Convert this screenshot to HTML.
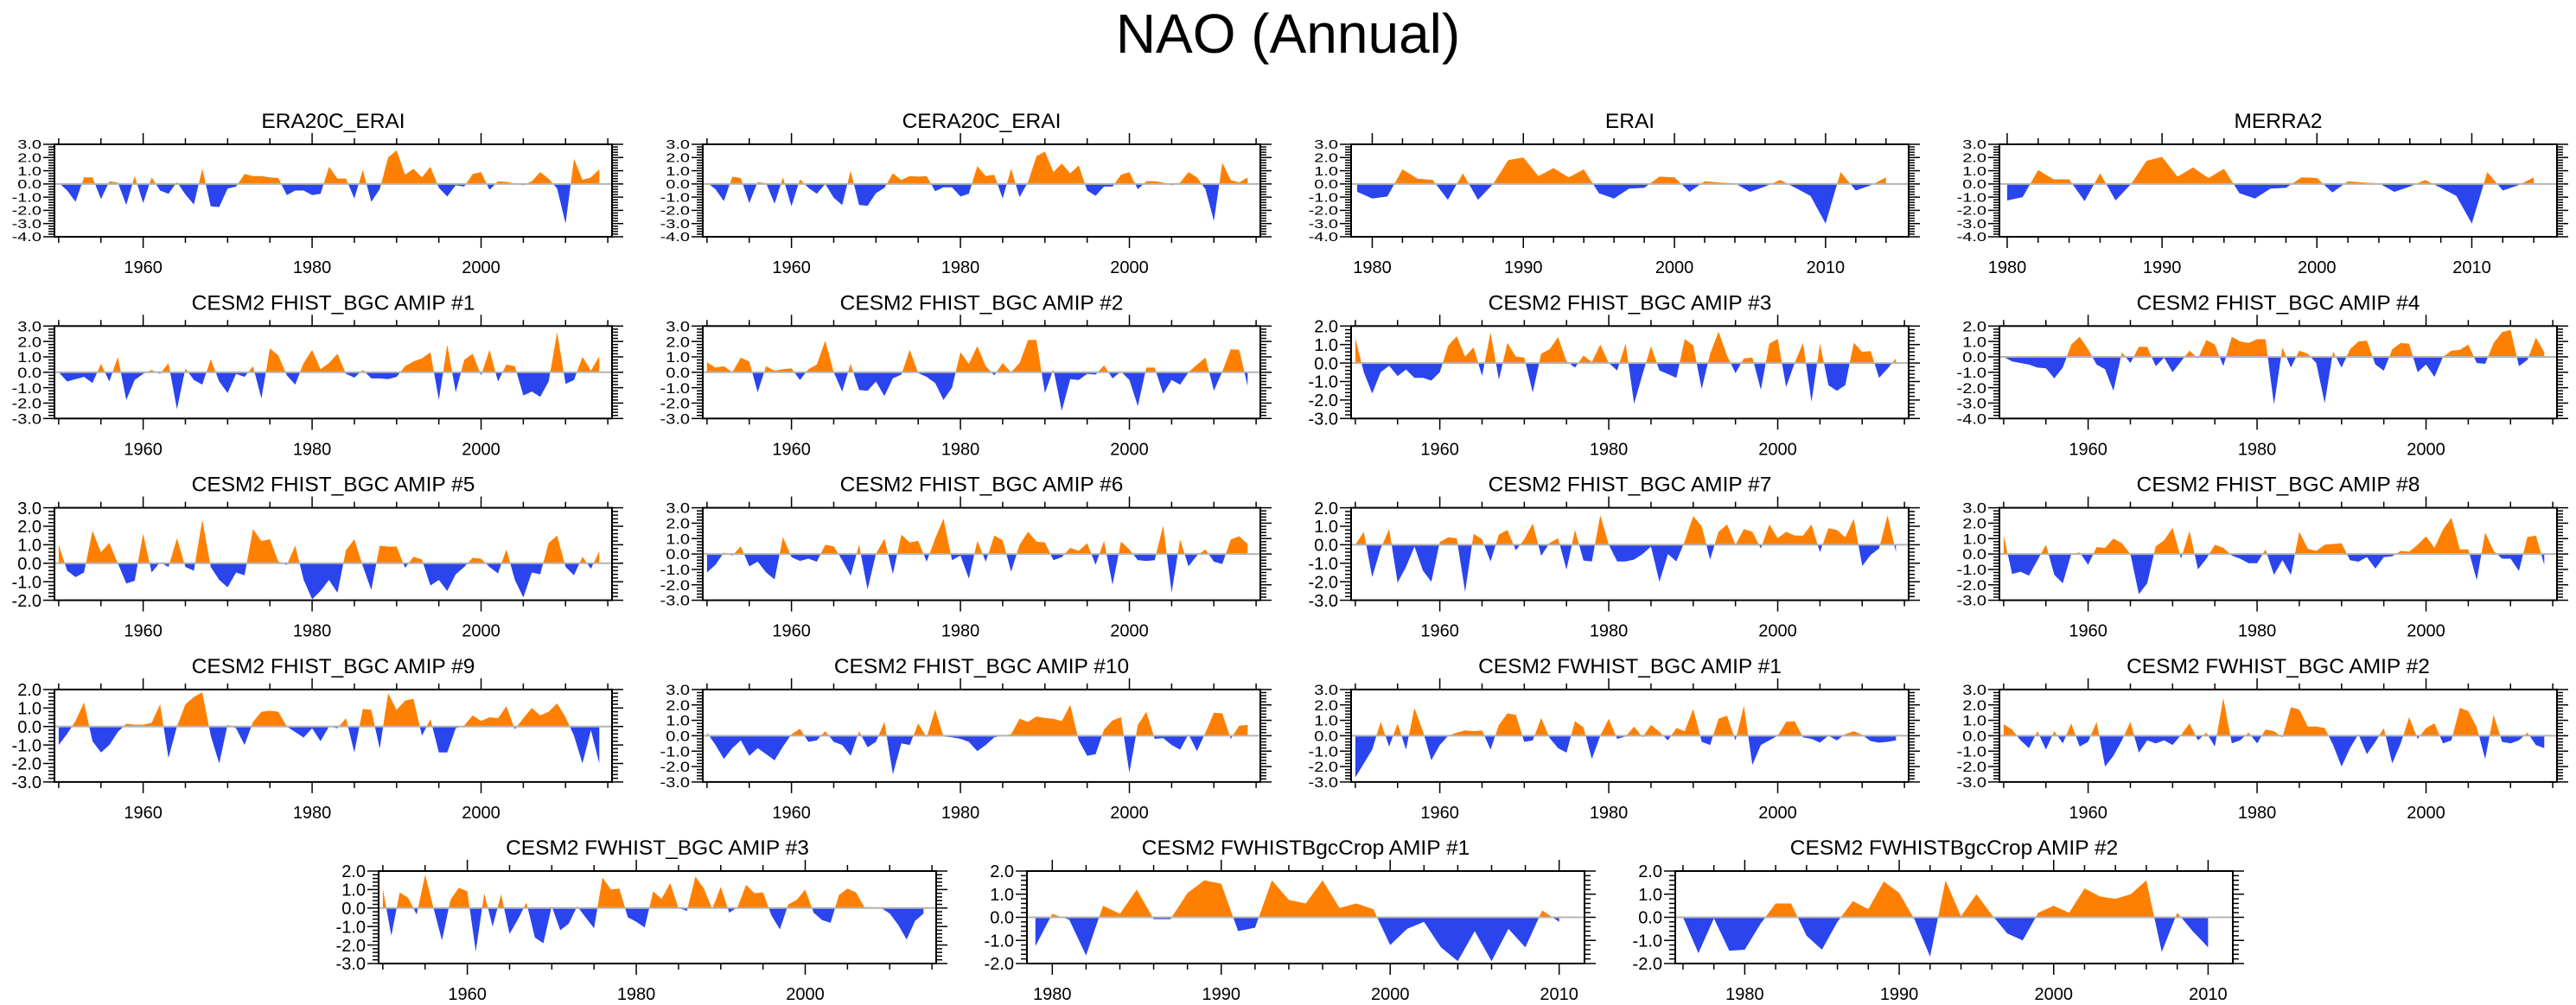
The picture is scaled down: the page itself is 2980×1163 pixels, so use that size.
<!DOCTYPE html>
<html><head><meta charset="utf-8"><title>NAO (Annual)</title>
<style>html,body{margin:0;padding:0;background:#fff}svg{display:block}text{font-family:"Liberation Sans",sans-serif;fill:#000}</style>
</head><body>
<svg id="fig" width="2980" height="1163" viewBox="0 0 2980 1163" xmlns="http://www.w3.org/2000/svg">
<text x="1490" y="61" font-size="64" text-anchor="middle">NAO (Annual)</text>
</svg>
<script>
const titles = ["ERA20C_ERAI","CERA20C_ERAI","ERAI","MERRA2",
"CESM2 FHIST_BGC AMIP #1","CESM2 FHIST_BGC AMIP #2","CESM2 FHIST_BGC AMIP #3","CESM2 FHIST_BGC AMIP #4",
"CESM2 FHIST_BGC AMIP #5","CESM2 FHIST_BGC AMIP #6","CESM2 FHIST_BGC AMIP #7","CESM2 FHIST_BGC AMIP #8",
"CESM2 FHIST_BGC AMIP #9","CESM2 FHIST_BGC AMIP #10","CESM2 FWHIST_BGC AMIP #1","CESM2 FWHIST_BGC AMIP #2",
"CESM2 FWHIST_BGC AMIP #3","CESM2 FWHISTBgcCrop AMIP #1","CESM2 FWHISTBgcCrop AMIP #2"];
const startYears = [1950,1950,1979,1980, 1950,1950,1950,1950, 1950,1950,1950,1950, 1950,1950,1950,1950, 1950,1979,1976];
const yMins = [-4,-4,-4,-4, -3,-3,-3,-4, -2,-3,-3,-3, -3,-3,-3,-3, -3,-2,-2];
const yMaxs = [3,3,3,3, 3,3,2,2, 3,3,2,3, 2,3,3,3, 2,2,2];

const era20c = [0.1,-0.5,-1.35,0.5,0.5,-1.15,0.2,0.1,-1.6,0.6,-1.45,0.5,-0.5,-0.75,0.15,-0.8,-1.55,1.15,-1.7,-1.75,-0.35,-0.2,0.75,0.6,0.6,0.5,0.45,-0.85,-0.5,-0.5,-0.85,-0.75,1.3,0.4,0.4,-1.1,1.05,-1.35,-0.4,2.0,2.55,0.7,1.15,0.5,1.3,-0.3,-0.95,-0.1,-0.2,0.75,0.9,-0.45,0.2,0.15,0.05,-0.1,0.2,0.9,0.4,-0.35,-3.0,1.9,0.3,0.5,1.1];
const cera20c = [0.1,-0.4,-1.3,0.55,0.45,-1.45,0.15,0.05,-1.5,0.5,-1.7,0.35,-0.3,-0.75,0.0,-1.05,-1.6,1.0,-1.6,-1.65,-0.7,-0.3,0.8,0.3,0.6,0.55,0.6,-0.55,-0.25,-0.25,-0.95,-0.75,1.35,0.6,0.7,-1.1,1.15,-1.0,0.15,2.1,2.45,0.9,1.55,0.8,1.4,-0.5,-0.9,-0.2,-0.2,0.7,0.9,-0.4,0.2,0.2,0.1,-0.1,0.1,0.9,0.5,-0.4,-2.8,1.6,0.3,0.1,0.5];
const erai = [-0.6,-1.1,-0.95,1.1,0.4,0.3,-1.2,0.8,-1.2,0.0,1.8,2.0,0.6,1.2,0.5,1.1,-0.7,-1.1,-0.35,-0.3,0.55,0.5,-0.6,0.2,0.1,0.05,-0.6,-0.2,0.3,-0.3,-0.9,-3.0,0.9,-0.5,-0.1,0.5];
const merra2 = [-1.25,-1.0,1.05,0.35,0.35,-1.3,0.8,-1.25,0.0,1.75,2.05,0.55,1.25,0.45,1.15,-0.7,-1.1,-0.35,-0.3,0.5,0.45,-0.65,0.2,0.1,0.05,-0.6,-0.2,0.3,-0.3,-0.9,-3.0,0.9,-0.5,-0.1,0.5];
const fhist1 = [0.0,-0.6,-0.45,-0.3,-0.7,0.55,-0.6,1.0,-1.8,-0.5,-0.1,0.15,-0.1,0.6,-2.4,0.25,-0.5,-0.8,0.85,-0.6,-1.35,-0.1,-0.3,0.4,-1.7,1.55,1.1,-0.2,-0.8,0.6,1.45,0.2,0.6,1.2,-0.1,-0.35,0.15,-0.4,-0.4,-0.45,-0.3,0.4,0.7,0.9,1.3,-1.8,1.8,-1.3,0.8,1.2,-0.2,1.45,-0.6,0.5,0.4,-1.5,-1.25,-1.6,-0.6,2.6,-0.75,-0.5,1.0,0.1,1.05];
const fhist2 = [0.65,0.3,0.4,0.0,0.95,0.7,-1.3,0.4,0.1,0.2,0.25,-0.5,0.2,0.5,2.05,0.0,-1.25,0.55,-1.15,-1.2,-0.6,-1.55,-0.4,-0.15,1.45,-0.05,-0.3,-0.7,-1.8,-1.0,1.3,0.55,1.7,0.4,-0.2,0.6,0.0,0.6,2.1,2.1,-1.35,0.2,-2.5,-0.45,-0.5,-0.1,-0.15,0.45,-0.4,0.05,-0.5,-2.2,0.3,0.3,-1.4,-0.5,-0.8,0.0,0.5,0.95,-1.2,0.05,1.5,1.45,-0.9];
const fhist3 = [1.35,-0.5,-1.65,-0.5,-0.15,-0.7,-0.35,-0.8,-0.8,-0.95,-0.5,0.95,1.45,0.35,0.85,-0.7,1.65,-0.9,1.1,0.35,0.3,-1.6,0.5,0.75,1.4,0.1,-0.25,0.4,0.05,1.0,0.0,-0.4,1.05,-2.2,-0.6,0.9,-0.4,-0.6,-0.8,1.3,0.95,-1.4,0.5,1.7,0.4,-0.55,0.25,0.3,-1.45,1.05,1.3,-1.3,0.0,1.1,-2.1,1.05,-1.2,-1.5,-1.2,1.1,0.6,0.65,-0.8,-0.3,0.25];
const fhist4 = [0.0,-0.3,-0.4,-0.5,-0.7,-0.75,-1.4,-0.7,0.8,1.3,0.5,-0.5,-0.8,-2.2,0.3,-0.4,0.65,0.65,-0.6,-0.05,-1.0,-0.3,0.4,-0.1,1.1,0.8,-0.6,1.3,1.0,0.9,1.15,1.15,-3.1,0.6,-0.7,0.4,0.2,-0.4,-3.0,0.35,-0.7,0.5,1.0,1.05,-0.5,-0.9,0.5,0.9,0.85,-1.0,-0.5,-1.3,0.0,0.4,0.45,0.8,-0.4,-0.45,0.9,1.6,1.75,-0.6,-0.2,1.25,0.3];
const fhist5 = [1.0,-0.4,-0.75,-0.5,1.75,0.6,1.1,0.0,-1.1,-0.95,1.6,-0.5,0.05,-0.2,1.35,-0.2,-0.4,2.35,-0.2,-0.9,-1.3,-0.5,-0.65,1.85,1.2,1.3,0.1,-0.1,0.95,-0.9,-1.95,-1.5,-0.9,-1.6,0.7,1.3,-0.15,-1.45,0.95,0.9,0.9,-0.25,0.35,0.2,-1.2,-0.9,-1.5,-0.6,-0.2,0.3,0.25,-0.2,-0.55,0.75,-0.9,-1.85,-0.5,-0.6,1.1,1.5,-0.2,-0.65,0.35,-0.3,0.65];
const fhist6 = [-1.2,-0.7,0.1,-0.1,0.5,-0.8,-0.5,-1.2,-1.65,1.1,-0.2,-0.45,-0.3,-0.5,0.6,0.5,-0.4,-1.4,0.6,-2.3,0.0,1.0,-1.3,1.25,0.75,0.85,-0.5,1.0,2.3,-0.4,-0.1,-1.6,0.85,-0.5,1.2,0.9,-1.15,0.6,1.45,0.8,0.75,-0.4,-0.2,0.4,0.2,0.7,-0.7,0.85,-2.0,0.8,0.3,-0.4,-0.45,-0.4,1.85,-2.5,0.95,-0.8,-0.1,0.3,-0.5,-0.65,0.95,1.15,0.65];
const fhist7 = [0.0,0.7,-1.75,-0.2,0.85,-2.05,-1.2,-0.1,-1.4,-2.0,0.15,0.4,0.35,-2.55,0.6,0.3,-0.9,0.55,0.8,-0.3,0.3,1.15,-0.6,0.1,0.35,-1.35,0.8,-0.85,-0.9,1.6,0.0,-0.9,-0.9,-0.8,-0.5,-0.1,-2.0,-0.5,-0.9,0.2,1.55,1.0,-0.8,0.7,1.1,0.0,0.85,0.7,-0.2,1.1,0.35,0.7,0.5,0.5,1.1,-0.4,0.9,0.8,0.4,1.4,-1.15,-0.55,-0.2,1.6,-0.4];
const fhist8 = [1.2,-1.3,-1.15,-1.4,-0.4,0.6,-1.35,-1.9,0.0,0.1,-0.7,0.45,0.4,1.0,0.7,0.0,-2.6,-1.9,0.5,0.9,1.7,-0.3,1.5,-1.0,-0.3,0.6,0.4,-0.1,-0.3,-0.6,-0.6,0.3,-1.35,-0.4,-1.35,1.45,0.35,0.2,0.6,0.65,0.7,-0.4,-0.5,-0.2,-0.95,-0.2,-0.15,0.2,0.15,0.6,1.15,0.4,1.6,2.35,0.3,0.3,-1.7,1.4,0.2,-0.3,-0.3,-1.1,1.1,1.2,-0.7];
const fhist9 = [-1.0,-0.4,0.3,1.3,-0.8,-1.4,-1.0,-0.3,0.15,0.1,0.1,0.2,1.2,-1.7,0.0,1.2,1.6,1.85,-0.5,-2.0,0.1,-0.1,-1.0,0.25,0.8,0.85,0.8,0.0,-0.3,-0.6,-0.1,-0.8,0.0,-0.1,0.45,-1.4,0.95,0.9,-1.2,1.8,0.9,1.4,1.5,-0.5,0.4,-1.4,-1.4,-0.1,0.05,0.6,0.3,0.5,0.45,1.1,-0.15,0.45,1.0,0.6,0.8,1.25,0.5,-0.5,-2.0,-0.2,-2.0];
const fhist10 = [0.2,-0.6,-1.5,-0.8,-0.3,-1.3,-0.8,-1.2,-1.6,-0.7,0.1,0.45,-0.4,-0.3,0.3,-0.4,-0.6,-1.3,0.3,-0.75,-0.4,0.9,-2.5,-0.5,-0.6,0.8,-0.1,1.7,-0.05,-0.1,-0.2,-0.4,-1.0,-0.6,-0.1,0.0,0.1,1.1,0.9,1.25,1.15,1.1,0.95,2.0,-0.3,-1.3,-1.2,0.4,1.0,1.2,-2.4,0.7,1.55,-0.2,-0.15,-0.6,-0.9,0.1,-1.0,0.2,1.5,1.45,-0.2,0.65,0.7];
const fwhist1 = [-2.7,-1.8,-0.9,0.9,-0.7,0.8,-0.9,1.8,0.3,-1.6,-0.6,0.0,0.2,0.35,0.3,0.35,-0.9,0.7,1.45,1.35,-0.4,-0.3,1.15,-0.15,-0.8,-1.1,0.95,0.55,-1.5,0.0,1.1,-0.2,-0.05,0.6,-0.1,0.7,0.25,-0.3,0.5,0.3,1.75,-0.4,-0.6,1.1,1.3,-0.3,1.95,-1.9,-0.6,-0.3,0.0,0.9,0.95,-0.1,-0.2,-0.45,0.0,-0.3,0.1,0.3,0.05,-0.35,-0.45,-0.4,-0.3];
const fwhist2 = [0.75,0.4,-0.3,-0.8,0.3,-0.9,0.3,-0.5,0.8,-0.7,-0.4,0.9,-2.0,-1.3,-0.3,0.9,-1.1,-0.3,-0.5,-0.3,-0.6,0.05,0.8,-0.3,0.2,-0.7,2.45,-0.5,-0.3,0.2,-0.5,0.4,0.3,-0.1,1.85,1.7,0.6,0.6,0.5,-0.6,-2.0,-0.8,0.1,-1.2,-0.4,0.5,-1.8,-0.5,1.2,-0.2,0.5,0.8,-0.5,-0.3,1.8,1.6,0.55,-1.5,1.35,-0.4,-0.5,-0.3,0.2,-0.6,-0.8];
const fwhist3 = [1.05,-1.5,0.85,0.55,-0.35,1.8,0.0,-1.75,0.45,1.1,0.9,-2.35,0.8,-1.0,0.75,-1.4,-0.6,0.3,-1.6,-1.9,0.1,-1.2,-0.85,0.1,-0.5,-1.1,1.65,1.0,1.05,-0.5,-0.75,-1.05,0.9,0.5,1.35,0.0,-0.15,1.7,1.05,-0.05,1.15,-0.25,0.05,1.25,0.8,0.85,-0.4,-1.15,0.2,0.45,1.0,-0.25,-0.65,-0.8,0.7,1.05,0.85,0.05,0.05,0.0,-0.3,-0.9,-1.7,-0.7,-0.3];
const crop1 = [-1.25,0.15,-0.1,-1.65,0.5,0.15,1.2,-0.08,-0.08,1.05,1.6,1.45,-0.6,-0.45,1.6,0.75,0.6,1.6,0.4,0.6,0.35,-1.2,-0.5,-0.2,-1.3,-1.9,-0.6,-1.9,-0.5,-1.3,0.3,-0.2];
const crop2 = [0.0,-1.55,-0.05,-1.45,-1.4,-0.3,0.6,0.6,-0.8,-1.4,-0.2,0.7,0.35,1.55,1.05,-0.1,-1.7,1.6,0.05,1.0,0.1,-0.7,-1.0,0.2,0.5,0.2,1.25,0.9,0.8,1.0,1.6,-1.5,0.2,-0.6,-1.3];

const seriesList = [era20c,cera20c,erai,merra2,fhist1,fhist2,fhist3,fhist4,fhist5,fhist6,fhist7,fhist8,fhist9,fhist10,fwhist1,fwhist2,fwhist3,crop1,crop2];

// layout (not data)
const W = 645, H = 107;
const layout = [];
for (let r = 0; r < 4; r++) for (let c = 0; c < 4; c++) layout.push({x: 63 + 750*c, y: 167 + 210.3*r});
layout.push({x: 438, y: 1008}, {x: 1188, y: 1008}, {x: 1938, y: 1008});
const xDomains = [];
for (let i = 0; i < 19; i++) {
  if (startYears[i] === 1950) xDomains.push([1949.5, 2015.5]);
  else if (i === 2 || i === 3) xDomains.push([1979.5, 2015.5]);
  else if (i === 17) xDomains.push([1978.5, 2011.5]);
  else xDomains.push([1975.5, 2011.6]);
}
xDomains[2] = [1978.6, 2015.5];

const NS = "http://www.w3.org/2000/svg";
const svg = document.getElementById('fig');
function mk(tag, attrs, parent) {
  const e = document.createElementNS(NS, tag);
  for (const k in attrs) e.setAttribute(k, attrs[k]);
  (parent || svg).appendChild(e);
  return e;
}

seriesList.forEach((vals, p) => {
  const L = layout[p], d = xDomains[p], y0v = yMins[p], y1v = yMaxs[p];
  const xs = v => L.x + (v - d[0]) / (d[1] - d[0]) * W;
  const ys = v => L.y + (y1v - v) / (y1v - y0v) * H;
  const g = mk('g', {});
  
  

  const t = mk('text', {x: L.x + W/2, y: L.y - 19, 'font-size': 24.5, 'text-anchor': 'middle'}, g);
  
  
  t.textContent = titles[p];

  const zy = ys(0);
  const defs = mk('defs', {}, g);
  const cpA = mk('clipPath', {id: 'ca' + p}, defs);
  mk('rect', {x: L.x, y: L.y, width: W, height: zy - L.y}, cpA);
  const cpB = mk('clipPath', {id: 'cb' + p}, defs);
  mk('rect', {x: L.x, y: zy, width: W, height: L.y + H - zy}, cpB);

  let dstr = 'M' + xs(startYears[p]).toFixed(1) + ',' + zy.toFixed(1);
  vals.forEach((v, i) => { dstr += 'L' + xs(startYears[p] + i).toFixed(1) + ',' + ys(v).toFixed(1); });
  dstr += 'L' + xs(startYears[p] + vals.length - 1).toFixed(1) + ',' + zy.toFixed(1) + 'Z';
  const pos = mk('path', {d: dstr, fill: '#ff8000', 'clip-path': 'url(#ca' + p + ')'}, g);
  
  
  const neg = mk('path', {d: dstr, fill: '#2a45ee', 'clip-path': 'url(#cb' + p + ')'}, g);
  
  

  const zl = mk('line', {x1: L.x, x2: L.x + W, y1: zy, y2: zy, stroke: '#b4b4b4', 'stroke-width': 2}, g);
  
  

  const box = mk('rect', {x: L.x, y: L.y, width: W, height: H, fill: 'none', stroke: '#000', 'stroke-width': 2}, g);
  
  

  const wide = (d[1] - d[0]) > 50;
  const minorStep = wide ? 5 : 2;
  const xa = mk('g', {stroke: '#000', 'stroke-width': 1.5}, g);
  
  
  for (let yr = Math.ceil(d[0]); yr <= d[1]; yr++) {
    if (yr % minorStep !== 0) continue;
    const major = wide ? (yr % 20 === 0) : (yr % 10 === 0);
    const len = major ? 13 : 7, x = xs(yr);
    mk('line', {x1: x, x2: x, y1: L.y, y2: L.y - len}, xa);
    mk('line', {x1: x, x2: x, y1: L.y + H, y2: L.y + H + len}, xa);
    if (major) {
      const lb = mk('text', {x: x, y: L.y + H + 42, 'font-size': 20, 'text-anchor': 'middle', stroke: 'none'}, g);
      
      
      lb.textContent = yr;
    }
  }
  const ya = mk('g', {stroke: '#000', 'stroke-width': 1.5}, g);
  
  
  const n = y1v - y0v;
  const sy = n >= 7 ? 0.72 : (n >= 6 ? 0.85 : 1.0);
  for (let k = 0; k <= n * 5; k++) {
    const v = y0v + k * 0.2, y = ys(v), major = k % 5 === 0;
    const len = major ? 13 : 7;
    mk('line', {x1: L.x, x2: L.x - len, y1: y, y2: y}, ya);
    mk('line', {x1: L.x + W, x2: L.x + W + len, y1: y, y2: y}, ya);
    if (major) {
      const lb = mk('text', {transform: 'translate(' + (L.x - 15) + ',' + (y + 7.2*sy) + ') scale(1,' + sy + ')', 'font-size': 20, 'text-anchor': 'end', stroke: 'none'}, g);
      
      
      lb.textContent = v.toFixed(1);
    }
  }
});
</script>
</body></html>
